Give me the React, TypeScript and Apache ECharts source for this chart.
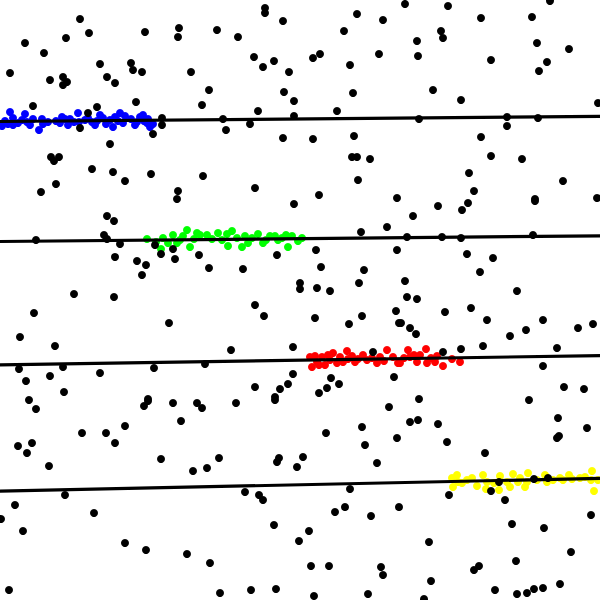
import React, { useEffect, useRef } from "react";
import * as echarts from "echarts";

// Background scatter (x, y) — y measured downward
const blackPoints: number[][] = [
  [80,19],[89,33],[66,38],[25,43],[44,53],[145,32],[179,28],[178,37],[10,73],[50,80],
  [63,77],[67,82],[63,85],[100,64],[107,77],[115,83],[131,63],[133,70],[142,72],[191,72],
  [136,102],[33,106],[97,107],[88,113],[162,118],[162,125],[153,134],[80,128],[110,144],
  [51,157],[59,157],[54,161],[92,169],[113,172],[151,174],[125,181],[56,184],[41,192],
  [178,191],[177,199],
  [265,8],[265,13],[283,21],[217,30],[238,37],[357,14],[383,20],[344,31],[254,57],[263,67],
  [274,61],[289,72],[313,58],[320,54],[350,65],[379,54],[209,90],[284,92],[294,101],[353,93],
  [202,105],[258,111],[337,111],[294,116],[223,119],[226,130],[250,124],[283,138],[313,139],
  [354,136],[352,157],[357,157],[370,159],[203,176],[358,180],[255,188],[319,195],[397,198],
  [405,4],[448,6],[481,18],[532,17],[550,1],[441,31],[443,38],[417,41],[418,56],[491,60],
  [537,43],[569,49],[547,62],[539,71],[433,90],[461,100],[598,103],[419,119],[507,117],
  [507,126],[538,118],[481,137],[491,156],[522,159],[469,173],[563,181],[474,191],[535,199],
  [597,198],
  [107,216],[114,221],[36,240],[104,235],[107,239],[120,244],[155,245],[161,254],[173,249],
  [175,259],[115,257],[137,261],[146,265],[142,275],[199,255],[74,294],[114,297],[34,313],
  [169,323],[20,337],[55,346],[19,369],[26,381],[50,376],[63,367],[64,392],[100,373],
  [154,368],[29,400],[148,399],
  [294,204],[361,232],[387,227],[209,268],[243,269],[277,255],[316,250],[397,250],[321,267],
  [364,270],[300,283],[300,289],[317,288],[330,291],[359,283],[255,305],[264,316],[315,318],
  [362,316],[349,324],[396,311],[399,323],[231,350],[293,347],[205,364],[373,352],[293,374],
  [288,384],[280,389],[275,397],[255,387],[319,393],[327,388],[331,378],[339,384],[394,377],
  [438,206],[462,210],[468,203],[535,201],[413,216],[407,237],[442,237],[461,238],[533,235],
  [467,254],[493,258],[480,272],[405,281],[407,297],[417,299],[517,291],[445,312],[471,308],
  [487,320],[543,320],[578,328],[593,324],[401,323],[410,328],[416,334],[510,336],[526,330],
  [461,349],[483,346],[443,352],[557,348],[543,366],[564,387],[584,389],[419,399],[529,400],
  [36,409],[18,446],[32,443],[27,453],[49,466],[82,433],[106,433],[115,443],[125,426],
  [144,406],[148,401],[173,403],[181,421],[197,403],[161,459],[193,471],[65,495],[15,505],
  [1,519],[23,531],[94,513],[125,543],[146,550],[187,554],[9,590],
  [202,408],[236,403],[275,400],[389,407],[362,427],[326,433],[397,438],[365,445],[219,458],
  [207,468],[279,458],[277,462],[303,457],[297,467],[377,463],[350,489],[245,492],[259,495],
  [263,500],[345,507],[335,512],[371,516],[399,507],[274,525],[309,531],[299,541],[210,563],
  [311,566],[329,566],[381,567],[383,575],[220,593],[251,590],[276,589],[314,596],[368,594],
  [410,422],[418,420],[438,424],[558,418],[587,428],[557,438],[559,436],[447,442],[485,453],
  [449,495],[491,491],[499,482],[505,500],[534,479],[548,478],[591,515],[512,524],[544,528],
  [429,542],[571,552],[516,561],[474,570],[479,566],[431,581],[495,590],[517,594],[527,593],
  [534,589],[543,588],[560,584],[424,599]
];

const bluePoints: number[][] = [
  [2,126],[10,112],[13,118],[13,125],[18,123],[25,114],[27,122],[33,119],[39,130],[42,119],
  [43,124],[62,117],[65,119],[68,125],[74,122],[78,113],[79,122],[92,122],[97,121],[100,115],
  [103,118],[110,120],[113,127],[115,117],[120,113],[125,116],[123,123],[137,122],[140,117],
  [143,115],[147,123],[150,127],[148,119],[5,121],[56,121],[85,120],[8,124],[22,120],
  [48,122],[60,123],[70,119],[88,118],[106,124],[118,121],[131,119],[135,125],[144,121],
  [153,124],[95,125],[30,125]
];

const greenPoints: number[][] = [
  [147,239],[163,238],[161,249],[173,235],[180,240],[187,230],[190,247],[197,233],[200,235],
  [207,235],[218,233],[227,234],[228,246],[232,231],[237,238],[242,247],[248,243],[258,234],
  [263,243],[270,236],[275,236],[278,240],[286,235],[288,247],[298,241],[183,236],[212,239],
  [252,238],[168,243],[292,236],[177,243],[194,239],[222,240],[245,236],[266,240],[302,238],
  [156,242],[282,238]
];

const redPoints: number[][] = [
  [310,357],[312,367],[317,362],[322,357],[325,365],[328,355],[333,353],[337,363],[340,357],
  [347,351],[348,359],[355,362],[363,355],[367,360],[377,363],[380,357],[387,350],[398,363],
  [400,363],[408,350],[410,357],[417,362],[420,355],[426,349],[427,363],[435,362],[437,356],
  [443,366],[460,362],[372,358],[393,357],[315,356],[330,360],[343,362],[352,356],[358,359],
  [384,361],[404,358],[414,355],[431,358],[452,359],[319,365]
];

const yellowPoints: number[][] = [
  [452,478],[453,487],[457,475],[467,480],[477,486],[483,475],[486,489],[487,482],[500,476],
  [499,490],[507,482],[510,487],[513,474],[518,482],[525,487],[528,473],[527,482],[545,475],
  [547,482],[560,478],[563,480],[569,475],[572,479],[592,471],[591,480],[594,491],[598,480],
  [462,483],[537,480],[580,478],[472,478],[494,483],[520,478],[553,480],[585,477],[458,482]
];

// Fit lines: [x, y] endpoints
const blueLine: number[][] = [[0,121.5],[600,116.3]];
const greenLine: number[][] = [[0,241.5],[600,235.8]];
const redLine: number[][] = [[0,364.8],[600,355.6]];
const yellowLine: number[][] = [[0,491.2],[600,478.3]];

export default function App() {
  const ref = useRef<HTMLDivElement>(null);
  useEffect(() => {
    if (!ref.current) return;
    const chart = echarts.init(ref.current, null, { renderer: "svg" });
    const dot = (name: string, data: number[][], color: string, z: number) => ({
      name,
      type: "scatter",
      data,
      symbol: "circle",
      symbolSize: 8,
      itemStyle: { color, opacity: 1 },
      z,
      silent: true,
    });
    const line = (name: string, data: number[][]) => ({
      name,
      type: "line",
      data,
      symbol: "none",
      lineStyle: { color: "#000", width: 3.2 },
      z: 10,
      silent: true,
    });
    chart.setOption({
      animation: false,
      backgroundColor: "#fff",
      grid: { left: 0, right: 0, top: 0, bottom: 0 },
      xAxis: { type: "value", min: 0, max: 600, show: false },
      yAxis: { type: "value", min: 0, max: 600, inverse: true, show: false },
      series: [
        dot("blue", bluePoints, "#0000ff", 2),
        dot("green", greenPoints, "#00ff00", 2),
        dot("red", redPoints, "#ff0000", 2),
        dot("yellow", yellowPoints, "#ffff00", 2),
        dot("background", blackPoints, "#000000", 3),
        line("blueFit", blueLine),
        line("greenFit", greenLine),
        line("redFit", redLine),
        line("yellowFit", yellowLine),
      ],
    });
    return () => chart.dispose();
  }, []);
  return (
    <div
      ref={ref}
      style={{ position: "fixed", left: 0, top: 0, width: 600, height: 600 }}
    />
  );
}
